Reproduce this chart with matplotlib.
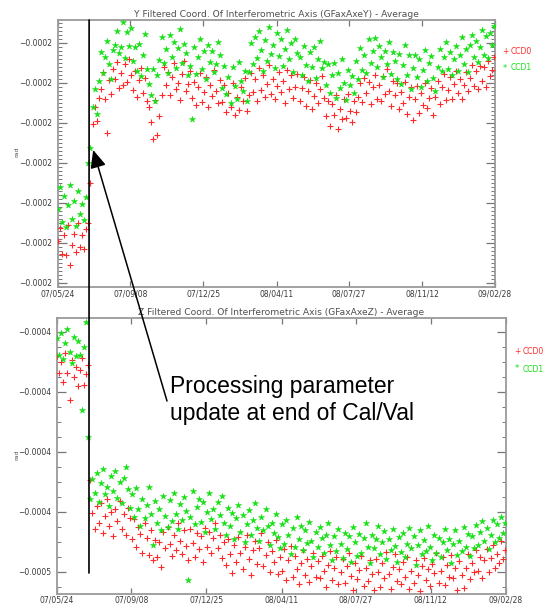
import matplotlib
matplotlib.use("Agg")
import matplotlib.pyplot as plt
import matplotlib.dates as mdates
import numpy as np
import pandas as pd
from matplotlib.patches import ConnectionPatch
from matplotlib.ticker import MultipleLocator

# ---------------- data (values in micro-rad, sampled every 3 days) ----------------
start_date = "2007-05-24"
end_date = "2009-02-28"
sample_step = "3D"
update_date = "2007-07-09"

top_title = "Y Filtered Coord. Of Interferometric Axis (GFaxAxeY) - Average"
bot_title = "Z Filtered Coord. Of Interferometric Axis (GFaxAxeZ) - Average"
series_names = ["CCD0", "CCD1"]

xtick_dates = ["2007-05-24", "2007-09-08", "2007-12-25", "2008-04-11",
               "2008-07-27", "2008-11-12", "2009-02-28"]
xtick_labels = ["07/05/24", "07/09/08", "07/12/25", "08/04/11",
                "08/07/27", "08/11/12", "09/02/28"]

top_yticks = [-160, -170, -180, -190, -200, -210, -220]
top_ytick_labels = ["\u22120.0002", "\u22120.0002", "\u22120.0002", "\u22120.0002",
                    "\u22120.0002", "\u22120.0002", "\u22120.0002"]
top_ylim = [-221.0, -154.25]

bot_yticks = [-410, -420, -430, -440, -450]
bot_ytick_labels = ["\u22120.0004", "\u22120.0004", "\u22120.0004", "\u22120.0004",
                    "\u22120.0005"]
bot_ylim = [-453.7, -407.7]

top_ccd1 = [
    -201.5, -196.0, -204.8, -198.2, -206.0, -200.6, -195.5, -203.9, -199.4, -205.8,
    -197.0, -202.8, -200.2, -204.2, -198.6, -190.0,
    -186.2, -176.0, -171.5, -177.8, -169.4, -162.2, -167.6, -163.6, -159.5, -165.2,
    -169.0, -161.7, -160.6, -156.9, -162.4, -161.0, -154.8, -163.8, -157.2, -160.7,
    -156.3, -164.6, -161.1, -166.9, -160.2, -168.3, -163.1, -157.7, -166.4, -170.2,
    -172.9, -166.5, -174.6, -168.0, -164.3, -158.6, -165.1, -161.5, -167.4, -157.9,
    -163.4, -159.8, -166.3, -161.2, -156.4, -164.9, -160.3, -162.6, -168.1, -165.7,
    -179.0, -161.0, -167.8, -163.5, -158.9, -166.6, -162.1, -169.0, -160.6, -164.8,
    -161.9, -167.2, -165.3, -159.7, -163.0, -171.2, -165.8, -172.7, -168.4, -175.1,
    -166.0, -170.8, -173.9, -164.7, -169.6, -172.1, -166.9, -174.4, -167.2, -160.1,
    -165.3, -158.4, -163.7, -156.9, -161.8, -167.0, -159.2, -164.4, -155.9, -162.7,
    -160.5, -166.2, -157.6, -163.3, -159.0, -165.8, -161.4, -156.8, -164.1, -160.0,
    -167.3, -158.9, -162.6, -163.5, -167.9, -160.7, -165.4, -169.6, -162.2, -166.0,
    -161.1, -168.7, -163.9, -159.6, -166.3, -164.7, -170.5, -165.2, -172.6, -168.0,
    -165.1, -173.8, -167.4, -171.2, -163.9, -169.9, -174.3, -166.7, -170.6, -168.2,
    -172.4, -164.5, -169.1, -161.2, -166.8, -163.0, -167.6, -159.1, -164.9, -162.0,
    -158.8, -166.1, -160.7, -163.4, -168.5, -161.9, -165.2, -159.7, -167.8, -162.3,
    -164.6, -169.0, -162.8, -170.3, -165.4, -160.6, -167.9, -163.1, -171.5, -166.2,
    -162.9, -168.6, -164.0, -170.9, -166.8, -161.7, -169.4, -165.0, -163.2, -168.8,
    -172.0, -165.9, -161.4, -167.1, -163.6, -159.8, -166.5, -162.2, -168.0, -164.1,
    -160.7, -166.9, -163.0, -158.6, -165.3, -161.5, -167.2, -160.4, -157.9, -163.6,
    -159.5, -164.8, -161.0, -156.7, -162.9, -158.3, -163.7, -157.4, -160.6, -155.8,
]

top_ccd0 = [
    -209.5, -206.2, -212.8, -208.0, -213.0, -205.5, -215.6, -210.4, -207.8, -212.3,
    -204.9, -210.9, -208.0, -211.5, -206.6, -205.0,
    -195.0, -180.3, -176.1, -179.4, -173.8, -171.6, -167.2, -173.9, -182.5, -169.3,
    -172.8, -166.4, -168.9, -164.7, -171.2, -167.5, -170.6, -165.3, -169.8, -163.9,
    -168.1, -171.7, -167.0, -173.4, -169.2, -166.3, -172.5, -168.7, -174.6, -176.0,
    -179.8, -184.0, -174.3, -183.1, -178.2, -172.9, -166.1, -170.4, -167.2, -173.0,
    -168.5, -165.0, -171.6, -169.9, -174.2, -167.8, -164.5, -172.1, -170.3, -166.9,
    -173.8, -169.7, -175.4, -171.0, -167.6, -174.7, -172.2, -168.4, -176.1, -170.5,
    -173.3, -166.8, -171.9, -175.0, -169.2, -174.8, -170.6, -177.3, -172.4, -175.9,
    -169.9, -178.0, -173.6, -176.8, -171.1, -174.5, -168.8, -177.1, -172.9, -167.5,
    -172.3, -169.0, -174.4, -166.2, -171.8, -168.1, -173.5, -170.3, -165.6, -172.7,
    -168.9, -174.0, -170.7, -167.3, -172.2, -169.4, -175.1, -166.8, -171.6, -168.0,
    -173.7, -170.9, -167.7, -174.5, -171.3, -168.6, -175.8, -172.0, -169.2, -176.4,
    -173.2, -170.1, -174.9, -171.5, -168.3, -173.8, -178.3, -174.6, -180.8, -175.2,
    -177.9, -173.0, -181.6, -176.5, -179.0, -174.1, -178.7, -172.8, -176.9, -179.8,
    -174.4, -177.2, -173.5, -170.1, -174.8, -168.7, -172.6, -169.8, -175.3, -171.0,
    -167.9, -173.9, -170.4, -174.6, -168.2, -172.7, -166.6, -171.9, -175.7, -169.5,
    -173.1, -170.0, -176.5, -172.3, -174.9, -169.7, -177.8, -173.4, -171.1, -179.2,
    -174.0, -170.8, -177.6, -172.5, -175.4, -169.9, -176.2, -173.7, -171.3, -178.0,
    -173.5, -169.6, -175.2, -170.9, -167.8, -174.3, -171.7, -168.5, -173.9, -170.2,
    -166.9, -172.6, -169.1, -174.0, -170.5, -167.3, -171.9, -168.8, -165.4, -170.7,
    -167.1, -171.4, -165.8, -169.6, -166.0, -170.9, -164.6, -168.3, -166.7, -163.5,
]

bot_ccd1 = [
    -411.0, -413.8, -410.2, -414.5, -411.9, -409.6, -413.4, -415.2, -410.8, -414.0,
    -411.6, -413.9, -423.0, -412.6, -408.3, -427.5,
    -437.9, -434.6, -436.8, -433.5, -438.4, -435.2, -432.9, -437.1, -435.8, -439.0,
    -434.1, -436.5, -433.2, -437.7, -435.0, -438.6, -434.4, -432.6, -436.2, -439.3,
    -437.0, -440.8, -436.1, -439.6, -442.3, -437.8, -441.1, -438.9, -435.9, -440.4,
    -445.5, -438.2, -441.9, -439.5, -443.0, -437.4, -440.7, -442.5, -438.1, -441.6,
    -436.9, -440.3, -442.8, -438.7, -441.4, -437.5, -439.9, -451.3, -440.9, -436.6,
    -442.1, -439.2, -437.9, -441.7, -438.4, -443.3, -440.0, -436.8, -441.2, -439.6,
    -442.9, -438.3, -440.6, -437.4, -441.9, -443.8, -439.4, -442.4, -440.2, -444.5,
    -441.0, -438.8, -443.4, -440.5, -445.1, -442.0, -439.7, -443.9, -441.3, -438.6,
    -442.7, -444.9, -440.9, -443.1, -439.5, -442.4, -445.6, -441.8, -443.6, -440.3,
    -444.2, -446.1, -442.0, -445.3, -441.4, -443.9, -447.0, -442.7, -445.8, -440.9,
    -444.6, -442.3, -446.4, -443.0, -445.2, -441.7, -444.9, -447.5, -443.4, -445.9,
    -442.5, -444.3, -446.9, -443.8, -441.9, -445.6, -448.0, -444.1, -446.6, -442.8,
    -445.4, -447.7, -443.5, -446.2, -444.0, -448.3, -442.6, -445.1, -447.3, -443.7,
    -446.8, -444.4, -441.8, -445.9, -448.6, -443.9, -446.0, -444.6, -442.3, -447.1,
    -445.0, -443.2, -447.9, -444.5, -446.3, -442.9, -445.7, -448.4, -444.2, -446.7,
    -443.6, -447.5, -445.3, -442.7, -446.1, -444.0, -448.8, -445.6, -443.1, -447.0,
    -444.7, -446.5, -442.4, -445.9, -448.1, -443.8, -446.9, -444.3, -447.6, -445.1,
    -442.9, -446.3, -444.6, -448.5, -445.4, -443.0, -447.2, -444.9, -446.6, -442.5,
    -445.8, -443.7, -447.4, -444.1, -446.0, -442.2, -445.5, -443.3, -441.6, -444.9,
    -442.7, -446.2, -443.9, -441.3, -445.0, -442.0, -444.4, -440.8, -443.5, -441.9,
]

bot_ccd0 = [
    -414.0, -416.9, -415.1, -418.3, -413.6, -416.8, -421.3, -414.7, -417.5, -415.9,
    -419.0, -416.4, -414.3, -418.9, -417.0, -415.5,
    -434.7, -440.2, -442.9, -439.1, -441.8, -438.5, -443.6, -440.7, -437.9, -442.4,
    -440.0, -444.1, -439.6, -441.5, -438.2, -442.8, -440.4, -443.9, -439.3, -441.1,
    -444.6, -441.2, -445.9, -442.5, -443.7, -446.8, -441.9, -444.3, -447.2, -443.0,
    -448.0, -444.7, -447.6, -445.1, -449.2, -443.3, -446.0, -442.6, -445.4, -447.3,
    -443.9, -446.4, -441.8, -444.9, -447.0, -443.1, -445.7, -448.1, -442.9, -445.2,
    -447.5, -443.6, -446.2, -444.0, -448.4, -442.7, -445.8, -443.4, -446.9, -444.4,
    -441.9, -446.1, -443.8, -447.7, -445.0, -448.9, -444.6, -447.1, -450.2, -445.5,
    -448.3, -444.2, -446.8, -449.5, -445.9, -443.9, -447.9, -450.6, -446.4, -444.8,
    -448.7, -446.0, -443.6, -449.1, -447.2, -445.1, -450.0, -446.6, -448.4, -444.7,
    -450.3, -447.5, -449.8, -446.2, -451.4, -448.0, -445.7, -450.9, -447.3, -449.6,
    -452.1, -448.6, -446.4, -450.5, -447.9, -451.7, -449.0, -446.8, -450.8, -448.2,
    -451.0, -447.4, -449.9, -452.6, -448.8, -446.5, -451.3, -449.4, -447.6, -452.0,
    -450.1, -447.9, -451.9, -449.0, -446.9, -450.7, -453.0, -448.5, -451.2, -449.7,
    -447.3, -452.3, -449.3, -451.6, -448.1, -450.4, -453.1, -447.8, -450.0, -452.5,
    -448.6, -451.1, -446.7, -450.3, -452.8, -449.2, -447.1, -451.5, -449.6, -452.0,
    -448.4, -450.8, -447.5, -452.9, -449.8, -451.9, -448.0, -450.6, -453.2, -449.1,
    -447.7, -451.3, -449.5, -452.4, -448.7, -450.2, -446.9, -451.8, -449.9, -447.6,
    -452.2, -448.9, -450.9, -447.2, -451.0, -449.3, -453.0, -448.2, -450.5, -452.7,
    -449.4, -447.0, -451.2, -448.5, -450.1, -446.3, -449.8, -447.6, -451.1, -448.0,
    -446.2, -450.0, -447.7, -445.6, -449.3, -447.0, -448.6, -444.9, -447.9, -446.4,
]

arrow_target_date = "2007-07-15"
arrow_target_value = -186.75
annotation_text = "Processing parameter\nupdate at end of Cal/Val"

# ---------------- styling ----------------
W, H = 548, 604
URAD = 1e-6
RED = "#ff2a2a"
GREEN = "#14e014"
FRAME = "#9a9a9a"
TXT = "#3a3a3a"

fig = plt.figure(figsize=(W / 100, H / 100), dpi=100)
fig.patch.set_facecolor("white")

ax1 = fig.add_axes([58 / W, 1 - 287 / H, 437 / W, 267 / H])
ax2 = fig.add_axes([57 / W, 1 - 594 / H, 449 / W, 276 / H])


def dnum(d):
    return mdates.date2num(pd.Timestamp(d).to_pydatetime())


def dates_for(vals):
    return mdates.date2num(pd.date_range(start_date, periods=len(vals),
                                         freq=sample_step).to_pydatetime())


def scatter_pair(ax, ccd0, ccd1):
    ax.scatter(dates_for(ccd0), np.array(ccd0) * URAD, marker="+", s=15,
               color=RED, linewidths=0.8, zorder=3)
    ax.scatter(dates_for(ccd1), np.array(ccd1) * URAD, marker="*", s=22,
               color=GREEN, linewidths=0.3, zorder=4)


def style(ax, yticks, ylabels, ylim, minor_step, title, xpad):
    ax.set_xlim(dnum(start_date), dnum(end_date))
    ax.set_ylim(ylim[0] * URAD, ylim[1] * URAD)
    ax.set_xticks([dnum(d) for d in xtick_dates])
    ax.set_xticklabels(xtick_labels)
    ax.set_yticks(np.array(yticks) * URAD)
    ax.set_yticklabels(ylabels)
    ax.yaxis.set_minor_locator(MultipleLocator(minor_step * URAD))
    ax.tick_params(which="both", direction="in", top=True, right=True,
                   colors="#777777", labelcolor=TXT, labelsize=5.5)
    ax.tick_params(axis="y", which="major", length=6.5, width=0.9, pad=4)
    ax.tick_params(axis="y", which="minor", length=3, width=0.7)
    ax.tick_params(axis="x", which="major", length=4, width=0.9, pad=xpad)
    ax.tick_params(axis="x", which="minor", bottom=False, top=False)
    for s in ax.spines.values():
        s.set_color(FRAME)
        s.set_linewidth(1.3)
    ax.set_title(title, fontsize=6.6, color="#505050", pad=2.5)


scatter_pair(ax1, top_ccd0, top_ccd1)
scatter_pair(ax2, bot_ccd0, bot_ccd1)
style(ax1, top_yticks, top_ytick_labels, top_ylim, 1.0, top_title, 2)
style(ax2, bot_yticks, bot_ytick_labels, bot_ylim, 2.5, bot_title, 0.8)

# y-axis unit labels
for ypx in (152, 455):
    fig.text(17 / W, 1 - ypx / H, "rad", rotation=90, fontsize=4.5,
             color="#505050", ha="center", va="center")

# legends (text placed like the original IDL plot)
legend_rows = [((505, 52), (68,)), ((517, 351), (369,))]
for (lx, ly0), (ly1,) in legend_rows:
    fig.text(lx / W, 1 - ly0 / H, "+", color=RED, fontsize=5.5, ha="center", va="center")
    fig.text((lx + 6) / W, 1 - ly0 / H, series_names[0], color=RED, fontsize=5.5,
             ha="left", va="center")
    fig.text(lx / W, 1 - ly1 / H, "*", color=GREEN, fontsize=6, ha="center", va="center")
    fig.text((lx + 6) / W, 1 - ly1 / H, series_names[1], color=GREEN, fontsize=5.5,
             ha="left", va="center")

# vertical line marking the processing update
upd = dnum(update_date)
vline = ConnectionPatch(xyA=(upd, top_ylim[1] * URAD), coordsA=ax1.transData,
                        xyB=(upd, -450.2 * URAD), coordsB=ax2.transData,
                        color="black", lw=1.2, zorder=10)
fig.add_artist(vline)

# arrow from the annotation text to the first post-update point
arrow = ConnectionPatch(xyA=(167 / W, 1 - 401 / H), coordsA=fig.transFigure,
                        xyB=(dnum(arrow_target_date), arrow_target_value * URAD),
                        coordsB=ax1.transData,
                        arrowstyle="-|>,head_length=0.9,head_width=0.4",
                        mutation_scale=12, color="black", lw=1.1,
                        shrinkA=0, shrinkB=0, zorder=10)
fig.add_artist(arrow)

fig.text(170 / W, 1 - 375 / H, annotation_text, fontsize=16.5,
         family=["Liberation Sans", "DejaVu Sans"], color="black",
         ha="left", va="top", linespacing=1.2)

fig.savefig("out.png", dpi=100)
